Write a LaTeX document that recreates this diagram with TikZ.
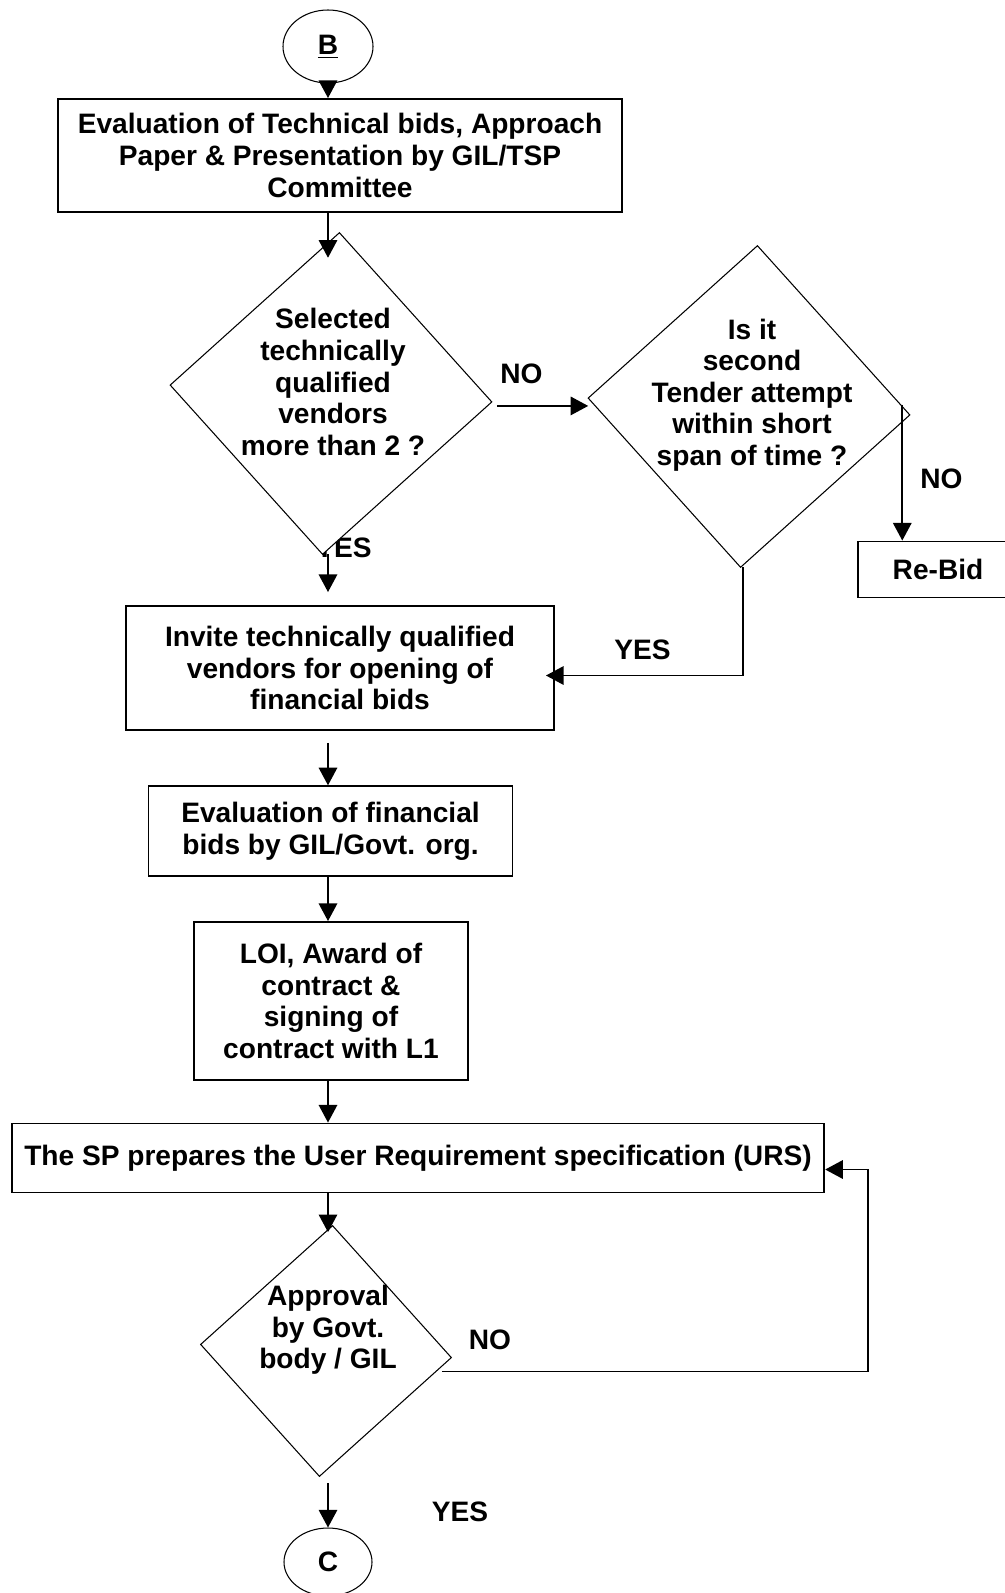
\documentclass[tikz,border=0pt]{standalone}
\usepackage{fontspec}
\setmainfont{Liberation Sans}
\usetikzlibrary{shapes.geometric,arrows.meta}
\tikzset{
  txt/.style={font=\bfseries\fontsize{16}{18}\selectfont, align=center},
  procbox/.style={txt, draw, line width=1.1pt, inner sep=0pt},
  decision/.style={diamond, draw, fill=white, line width=0.6pt, inner sep=0pt, outer sep=0pt, aspect=1},
  conn/.style={ellipse, draw, line width=0.6pt, inner sep=0pt, txt},
  arr/.style={-{Triangle[length=10pt,width=10.5pt]}, line width=0.9pt},
}
\begin{document}
\begin{tikzpicture}

\useasboundingbox (0,0) rectangle (20.1,-31.86);
\clip (0,0) rectangle (20.1,-31.86);
\coordinate (spine) at (6.56,0);

\node[conn, minimum width=1.8cm, minimum height=1.46cm] (cb) at (6.56,-0.93) {\underline{B}};
\node[procbox, minimum width=11.28cm, minimum height=2.26cm] (tech) at (6.8,-3.11) {Evaluation of Technical bids, Approach\\Paper \& Presentation by GIL/TSP\\Committee};

\node[txt] (yes1) at (6.87,-10.95) {YES};
\node[decision, minimum width=6.44cm, minimum height=6.44cm, rotate=-3] (sel) at (6.62,-7.87) {};
\node[txt] (seltxt) at (6.66,-7.64) {Selected\\technically\\qualified\\vendors\\more than 2 ?};
\node[txt] (no1) at (10.43,-7.48) {NO};

\node[decision, minimum width=6.44cm, minimum height=6.44cm, rotate=-3] (tender) at (14.98,-8.13) {};
\node[txt] (tendertxt) at (15.04,-7.9) {Is it\\second\\Tender attempt\\within short\\span of time ?};
\node[txt] (no2) at (18.83,-9.57) {NO};
\node[procbox, minimum width=3.21cm, minimum height=1.12cm] (rebid) at (18.76,-11.39) {Re-Bid};

\node[procbox, minimum width=8.56cm, minimum height=2.48cm] (invite) at (6.8,-13.36) {Invite technically qualified\\vendors for opening of\\financial bids};
\node[txt] (yes2) at (12.85,-12.99) {YES};

\node[procbox, minimum width=7.28cm, minimum height=1.79cm] (evalfin) at (6.61,-16.62) {Evaluation of financial\\bids by GIL/Govt. org.};
\node[procbox, minimum width=5.49cm, minimum height=3.16cm] (loi) at (6.62,-20.02) {LOI, Award of\\contract \&\\signing of\\contract with L1};
\node[procbox, minimum width=16.25cm, minimum height=1.38cm] (urs) at (8.36,-23.16) {The SP prepares the User Requirement specification (URS)};

\node[decision, minimum width=5.02cm, minimum height=5.02cm, rotate=-3] (appr) at (6.52,-27.02) {};
\node[txt] (apprtxt) at (6.56,-26.6) {Approval\\by Govt.\\body / GIL};
\node[txt] (no3) at (9.8,-26.8) {NO};
\node[txt] (yes3) at (9.2,-30.23) {YES};
\node[conn, minimum width=1.76cm, minimum height=1.36cm] (cc) at (6.56,-31.24) {C};

\draw[arr] (cb.south) -- (cb.south |- tech.north);
\draw[arr] (tech.south -| spine) -- ([yshift=-0.5cm]sel.north -| spine);
\draw[arr, shorten <=0.1cm] ([yshift=-0.08cm]sel.east) -- ([yshift=-0.08cm]sel.east -| tender.west);
\coordinate (tr) at ([xshift=-0.15cm,yshift=0.2cm]tender.east);
\draw[arr] (tr) -- (tr |- rebid.north);
\draw[arr] (sel.south -| spine) -- ([yshift=0.26cm]invite.north -| spine);
\draw[arr] ([xshift=0.05cm]tender.south) |- ([xshift=-0.18cm,yshift=-0.15cm]invite.east);
\draw[arr] ([yshift=-0.24cm]invite.south -| spine) -- (evalfin.north -| spine);
\draw[arr] (evalfin.south -| spine) -- (loi.north -| spine);
\draw[arr] (loi.south -| spine) -- (urs.north -| spine);
\draw[arr] (urs.south -| spine) -- ([yshift=-0.13cm]appr.north -| spine);
\draw[arr] ([xshift=-0.19cm,yshift=-0.28cm]appr.east) -- ++(8.52,0) |- ([yshift=-0.23cm]urs.east);
\draw[arr] ([yshift=-0.14cm]appr.south -| spine) -- (cc.north);
\end{tikzpicture}
\end{document}
